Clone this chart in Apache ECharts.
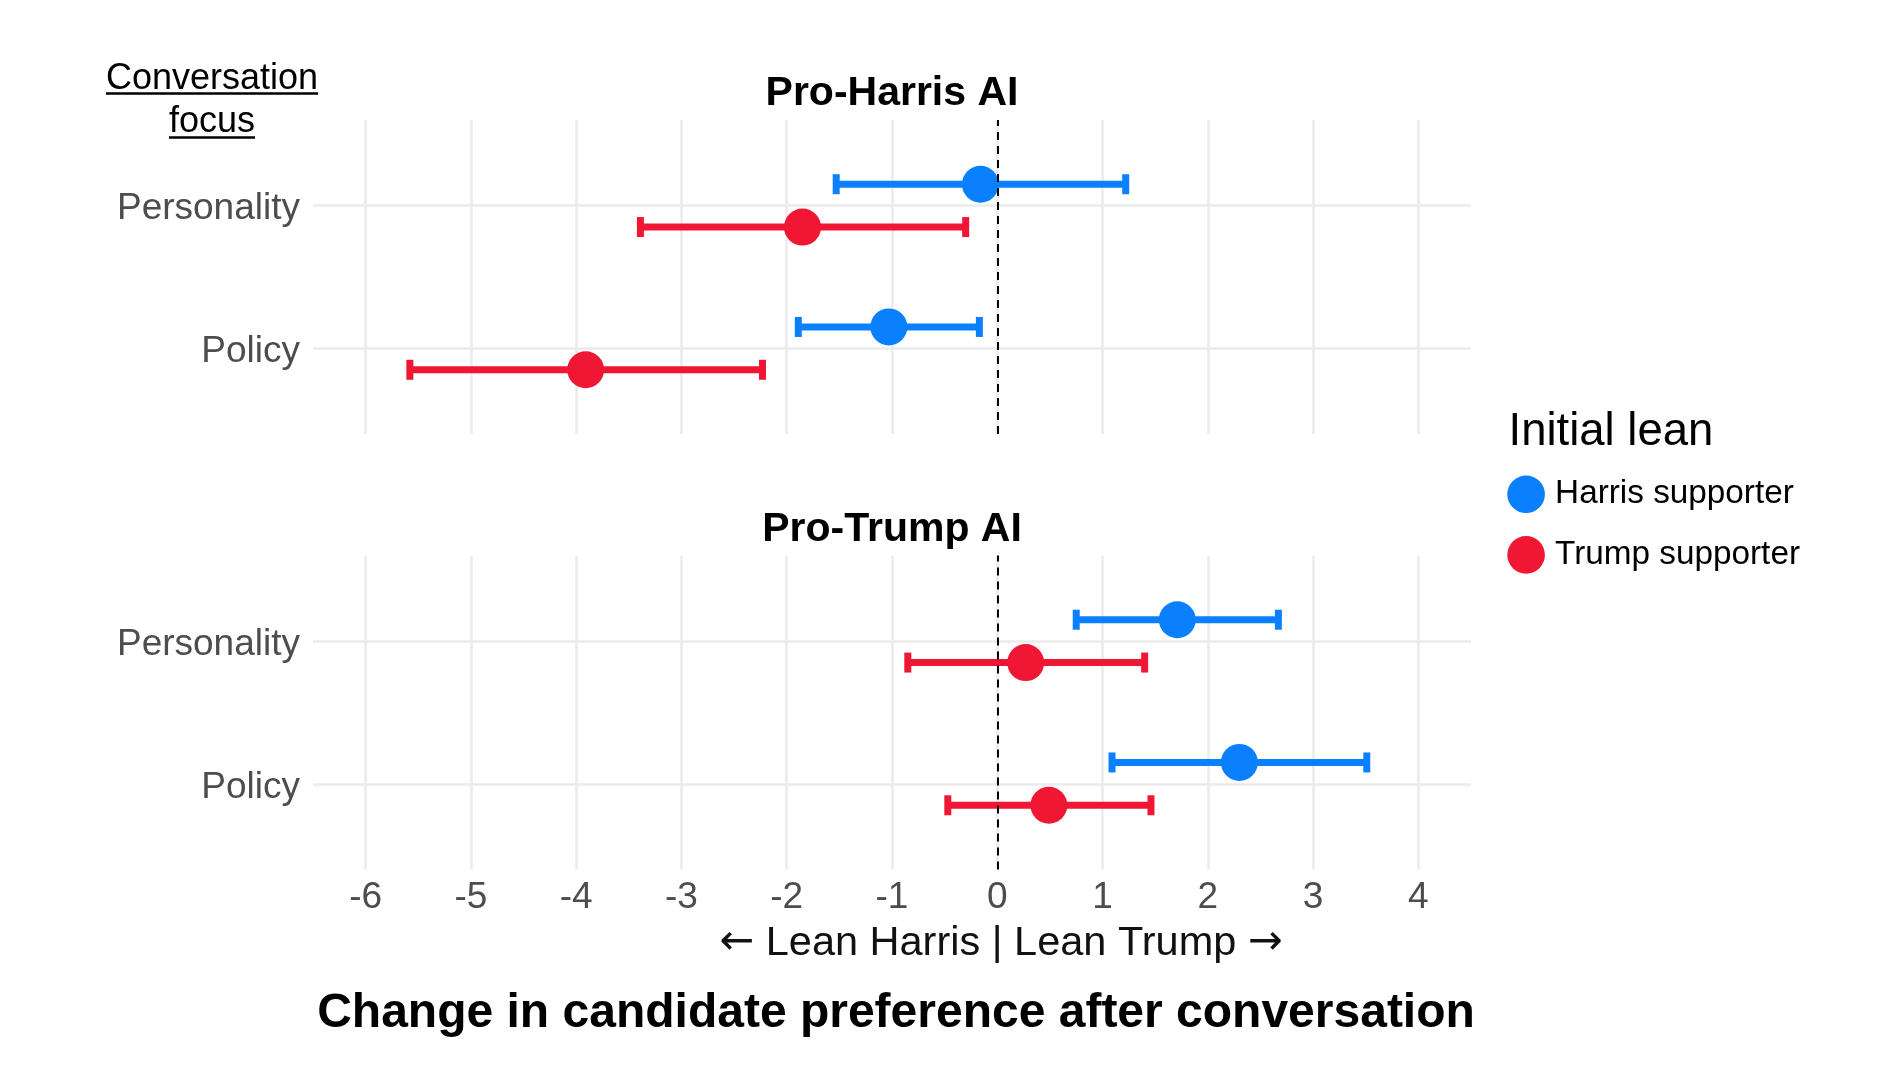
<!DOCTYPE html>
<html><head><meta charset="utf-8">
<script src="https://cdn.jsdelivr.net/npm/echarts@6/dist/echarts.min.js"></script>
<style>html,body{margin:0;padding:0;background:#fff}#c{width:1904px;height:1075px}</style>
</head><body><div id="c"></div>
<script>
// ---------------- data ----------------
const focusCategories = ['Personality', 'Policy'];
const panelTitles = ['Pro-Harris AI', 'Pro-Trump AI'];
const groups = ['Harris supporter', 'Trump supporter'];
const xTicks = [-6, -5, -4, -3, -2, -1, 0, 1, 2, 3, 4];

// Pro-Harris AI panel (order: Personality, Policy)
const proHarrisHarrisEst  = [-0.16, -1.03];
const proHarrisHarrisLow  = [-1.53, -1.89];
const proHarrisHarrisHigh = [ 1.22, -0.17];
const proHarrisTrumpEst   = [-1.85, -3.91];
const proHarrisTrumpLow   = [-3.39, -5.58];
const proHarrisTrumpHigh  = [-0.30, -2.23];

// Pro-Trump AI panel (order: Personality, Policy)
const proTrumpHarrisEst  = [1.71, 2.30];
const proTrumpHarrisLow  = [0.75, 1.09];
const proTrumpHarrisHigh = [2.67, 3.51];
const proTrumpTrumpEst   = [0.27, 0.49];
const proTrumpTrumpLow   = [-0.85, -0.47];
const proTrumpTrumpHigh  = [1.40, 1.46];

const xTitleParts = ['←', ' Lean Harris | Lean Trump ', '→'];
const caption = 'Change in candidate preference after conversation';
const legendTitle = 'Initial lean';
const focusTitle = ['Conversation', 'focus'];

// ---------------- styling / layout ----------------
const FONT = "'Liberation Sans', Arial, Helvetica, sans-serif";
const COLORS = {'Harris supporter': '#0A80FF', 'Trump supporter': '#EF1733'};
const DODGE = {'Harris supporter': 0.15, 'Trump supporter': -0.15};
const GRID_LEFT = 313, GRID_W = 1158, GRID_H = 314;
const GRID_TOPS = [120, 555.5];

const panelData = [
  {'Harris supporter': [proHarrisHarrisEst, proHarrisHarrisLow, proHarrisHarrisHigh],
   'Trump supporter':  [proHarrisTrumpEst, proHarrisTrumpLow, proHarrisTrumpHigh]},
  {'Harris supporter': [proTrumpHarrisEst, proTrumpHarrisLow, proTrumpHarrisHigh],
   'Trump supporter':  [proTrumpTrumpEst, proTrumpTrumpLow, proTrumpTrumpHigh]}
];
const catPos = i => focusCategories.length - i;
const yTickVals = focusCategories.map((c, i) => catPos(i));

const series = [];
panelData.forEach((pd, p) => {
  groups.forEach(g => {
    const [est, lo, hi] = pd[g];
    const color = COLORS[g];
    series.push({
      type: 'custom', name: g + ' interval', xAxisIndex: p, yAxisIndex: p, z: 2, silent: true,
      itemStyle: {color},
      encode: {x: [0, 1], y: 2},
      data: focusCategories.map((c, i) => [lo[i], hi[i], catPos(i) + DODGE[g]]),
      renderItem: (params, api) => {
        const y = api.value(2);
        const a = api.coord([api.value(0), y]);
        const b = api.coord([api.value(1), y]);
        const cap = 10;
        const st = {stroke: color, lineWidth: 7};
        return {type: 'group', children: [
          {type: 'line', shape: {x1: a[0], y1: a[1], x2: b[0], y2: b[1]}, style: st},
          {type: 'line', shape: {x1: a[0], y1: a[1] - cap, x2: a[0], y2: a[1] + cap}, style: st},
          {type: 'line', shape: {x1: b[0], y1: b[1] - cap, x2: b[0], y2: b[1] + cap}, style: st}
        ]};
      }
    });
    series.push({
      type: 'scatter', name: g, xAxisIndex: p, yAxisIndex: p, z: 3, symbolSize: 37,
      itemStyle: {color, opacity: 1},
      data: focusCategories.map((c, i) => [est[i], catPos(i) + DODGE[g]])
    });
  });
  series.push({
    type: 'scatter', name: 'zero' + p, xAxisIndex: p, yAxisIndex: p, z: 5, silent: true, data: [],
    markLine: {silent: true, symbol: 'none', label: {show: false}, animation: false,
      lineStyle: {color: '#000', type: [8, 6], width: 2}, data: [{xAxis: 0}]}
  });
});

const grids = GRID_TOPS.map(t => ({left: GRID_LEFT, top: t, width: GRID_W, height: GRID_H}));
const xAxes = GRID_TOPS.map((t, p) => ({
  type: 'value', gridIndex: p, min: -6.5, max: 4.5,
  axisLine: {show: false},
  axisTick: {show: false, customValues: xTicks},
  axisLabel: {show: p === 1, customValues: xTicks, fontSize: 37, color: '#4d4d4d', margin: 10, fontFamily: FONT},
  splitLine: {show: true, lineStyle: {color: '#ebebeb', width: 2.5}}
}));
const yAxes = GRID_TOPS.map((t, p) => ({
  type: 'value', gridIndex: p, min: 0.4, max: 2.6,
  axisLine: {show: false},
  axisTick: {show: false, customValues: yTickVals},
  axisLabel: {customValues: yTickVals, fontSize: 37, color: '#4d4d4d', margin: 13, fontFamily: FONT,
    formatter: v => '{c|' + focusCategories[focusCategories.length - Math.round(v)] + '}',
    rich: {c: {fontSize: 37, color: '#4d4d4d', fontFamily: FONT, padding: [7, 0, 0, 0]}}},
  splitLine: {show: true, lineStyle: {color: '#ebebeb', width: 2.5}}
}));

// text measuring for underlines
const mctx = document.createElement('canvas').getContext('2d');
function textW(t, size, weight) { mctx.font = (weight || 'normal') + ' ' + size + 'px ' + FONT; return mctx.measureText(t).width; }

function txt(text, x, y, size, opts) {
  opts = opts || {};
  const align = opts.align || 'center';
  const style = {
    text, fontSize: size, fontFamily: FONT, fontWeight: opts.bold ? 'bold' : 'normal',
    fill: opts.color || '#000', align, verticalAlign: 'middle', textAlign: align, textVerticalAlign: 'middle'};
  if (opts.rich) style.rich = opts.rich;
  return {type: 'text', x, y, silent: true, style};
}

const graphics = [];
const panelCenter = GRID_LEFT + GRID_W / 2;
graphics.push(txt(panelTitles[0], panelCenter, 94, 41, {bold: true}));
graphics.push(txt(panelTitles[1], panelCenter, 529.5, 41, {bold: true}));
const ftX = 212, ftY = [79.5, 122.5], ulY = [93.5, 137.5];
focusTitle.forEach((t, i) => {
  graphics.push(txt(t, ftX, ftY[i], 36));
  const w = textW(t, 36);
  graphics.push({type: 'line', silent: true, shape: {x1: ftX - w / 2, y1: ulY[i], x2: ftX + w / 2, y2: ulY[i]},
    style: {stroke: '#000', lineWidth: 2.7}});
});
const arrowRich = {
  ar: {fontFamily: "'DejaVu Sans', sans-serif", fontSize: 41.5, fill: '#111'},
  tx: {fontFamily: FONT, fontSize: 41.5, fill: '#111'}
};
graphics.push(txt('{ar|' + xTitleParts[0] + '}{tx|' + xTitleParts[1] + '}{ar|' + xTitleParts[2] + '}',
  1001, 943.5, 41.5, {color: '#111', rich: arrowRich}));
graphics.push(txt(caption, 896, 1014, 48, {bold: true}));
graphics.push(txt(legendTitle, 1508.5, 432.5, 45.5, {align: 'left'}));

const chart = echarts.init(document.getElementById('c'), null, {renderer: 'canvas', width: 1904, height: 1075});
chart.setOption({
  animation: false,
  backgroundColor: '#fff',
  grid: grids,
  xAxis: xAxes,
  yAxis: yAxes,
  legend: {
    data: groups.map(g => ({name: g, icon: 'circle', itemStyle: {color: COLORS[g]}})),
    orient: 'vertical', left: 1507.3, top: 475.5, padding: 0,
    itemWidth: 46, itemHeight: 37.6, itemGap: 23, selectedMode: false,
    textStyle: {fontSize: 33.3, color: '#000', fontFamily: FONT, padding: [0, 0, 0, 1]}
  },
  graphic: graphics,
  series
});
</script></body></html>
